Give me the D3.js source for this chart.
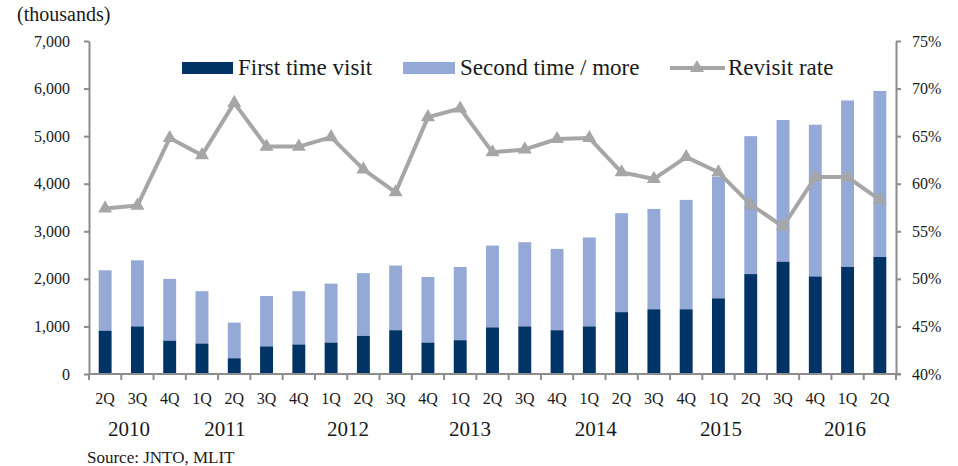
<!DOCTYPE html>
<html>
<head>
<meta charset="utf-8">
<script src="https://cdn.jsdelivr.net/npm/d3@7"></script>
<style>
  body { margin: 0; background: #fff; }
  text { font-family: "Palatino Linotype", "Book Antiqua", Palatino, "Liberation Serif", serif; fill: #1a1a1a; }
</style>
</head>
<body>
<script>
// quarters from 2010 2Q to 2016 2Q
var quarters = ["2Q","3Q","4Q","1Q","2Q","3Q","4Q","1Q","2Q","3Q","4Q","1Q","2Q","3Q","4Q",
                "1Q","2Q","3Q","4Q","1Q","2Q","3Q","4Q","1Q","2Q"];
// thousands of visitors
var firstTime = [910,1000,700,640,330,580,620,660,800,920,660,710,980,1000,920,
                 1000,1300,1360,1360,1590,2100,2360,2050,2250,2460];
var totalVisits = [2180,2390,2000,1740,1080,1640,1740,1900,2120,2280,2040,2250,2700,2770,2630,
                   2870,3380,3470,3660,4150,5000,5340,5240,5750,5950];
// revisit rate, %
var revisitRate = [57.4,57.7,64.8,63.0,68.5,63.9,63.9,64.9,61.5,59.1,67.0,67.9,63.3,63.6,64.7,
                   64.8,61.2,60.5,62.8,61.2,57.8,55.5,60.7,60.7,58.3];

var yearLabels = ["2010","2011","2012","2013","2014","2015","2016"];
var yearAt = [1.24, 4.21, 8.02, 11.8, 15.7, 19.58, 23.42]; // position along axis, in quarter steps

var leftTicks = [0,1000,2000,3000,4000,5000,6000,7000];
var rightTicks = [40,45,50,55,60,65,70,75];

var navy = "#003366", light = "#95a9d7", gray = "#a6a6a6", axisGray = "#8c8c8c";
var serif = "\"Palatino Linotype\", \"Book Antiqua\", Palatino, \"Liberation Serif\", serif";

var svg = d3.select("body").append("svg")
    .attr("width", 958)
    .attr("height", 466);

var plotL = 89, plotR = 896, plotT = 41, plotB = 374;

var idx = d3.range(quarters.length);
var x = d3.scaleBand().domain(idx).range([plotL, plotR]).paddingInner(0.6).paddingOuter(0.3);
var yL = d3.scaleLinear().domain([0, 7000]).range([plotB, plotT]);
var yR = d3.scaleLinear().domain([40, 75]).range([plotB, plotT]);

// bars: first time at bottom, repeat visits stacked on top
var bars = svg.append("g");
bars.selectAll("rect.second")
    .data(idx)
    .enter().append("rect")
    .attr("class", "second")
    .attr("x", function (i) { return x(i); })
    .attr("y", function (i) { return yL(totalVisits[i]); })
    .attr("width", x.bandwidth())
    .attr("height", function (i) { return yL(firstTime[i]) - yL(totalVisits[i]); })
    .style("fill", light);

bars.selectAll("rect.first")
    .data(idx)
    .enter().append("rect")
    .attr("class", "first")
    .attr("x", function (i) { return x(i); })
    .attr("y", function (i) { return yL(firstTime[i]); })
    .attr("width", x.bandwidth())
    .attr("height", function (i) { return yL(0) - yL(firstTime[i]); })
    .style("fill", navy);

// axes
var axL = svg.append("g")
    .attr("transform", "translate(" + plotL + ",0)")
    .call(d3.axisLeft(yL).tickValues(leftTicks).tickFormat(d3.format(",")).tickSize(5).tickSizeOuter(0));
var axR = svg.append("g")
    .attr("transform", "translate(" + plotR + ",0)")
    .call(d3.axisRight(yR).tickValues(rightTicks).tickFormat(function (d) { return d + "%"; }).tickSize(5).tickSizeOuter(0));

[axL, axR].forEach(function (ax) {
    ax.selectAll("path, line").attr("stroke", axisGray).attr("stroke-width", 2);
    ax.selectAll("text").style("font-size", "16px").attr("fill", "#1a1a1a").style("font-family", serif);
});
axL.selectAll("text").attr("x", -19);
axR.selectAll("text").attr("x", 16);

// x axis: baseline with ticks at band boundaries
var xAxis = svg.append("g");
xAxis.append("line")
    .attr("x1", plotL).attr("x2", plotR + 5)
    .attr("y1", plotB).attr("y2", plotB)
    .attr("stroke", axisGray).attr("stroke-width", 2);
xAxis.selectAll("line.tick")
    .data(d3.range(quarters.length + 1))
    .enter().append("line")
    .attr("class", "tick")
    .attr("x1", function (i) { return plotL + i * x.step(); })
    .attr("x2", function (i) { return plotL + i * x.step(); })
    .attr("y1", plotB).attr("y2", plotB + 6)
    .attr("stroke", axisGray).attr("stroke-width", 2);

xAxis.selectAll("text.q")
    .data(idx)
    .enter().append("text")
    .attr("class", "q")
    .attr("x", function (i) { return x(i) + x.bandwidth() / 2; })
    .attr("y", 404)
    .attr("text-anchor", "middle")
    .style("font-size", "16px")
    .text(function (i) { return quarters[i]; });

xAxis.selectAll("text.year")
    .data(yearLabels)
    .enter().append("text")
    .attr("class", "year")
    .attr("x", function (d, i) { return plotL + yearAt[i] * x.step(); })
    .attr("y", 436)
    .attr("text-anchor", "middle")
    .style("font-size", "21px")
    .text(function (d) { return d; });

// revisit rate line
var cx = function (d, i) { return x(i) + x.bandwidth() / 2; };
svg.append("path")
    .datum(revisitRate)
    .attr("d", d3.line().x(cx).y(function (d) { return yR(d); }))
    .attr("fill", "none")
    .attr("stroke", gray)
    .attr("stroke-width", 4)
    .attr("stroke-linejoin", "round");

var tri = d3.symbol().type(d3.symbolTriangle).size(85);
svg.selectAll("path.mark")
    .data(revisitRate)
    .enter().append("path")
    .attr("class", "mark")
    .attr("d", tri)
    .attr("transform", function (d, i) { return "translate(" + cx(d, i) + "," + yR(d) + ")"; })
    .attr("fill", gray);

// legend
var legend = svg.append("g");
legend.append("rect").attr("x", 182).attr("y", 62).attr("width", 51).attr("height", 12).style("fill", navy);
legend.append("text").attr("x", 238).attr("y", 75).style("font-size", "23px").text("First time visit");
legend.append("rect").attr("x", 403).attr("y", 62).attr("width", 52).attr("height", 12).style("fill", light);
legend.append("text").attr("x", 460).attr("y", 75).style("font-size", "23px").text("Second time / more");
legend.append("line").attr("x1", 670).attr("x2", 725).attr("y1", 68).attr("y2", 68)
    .attr("stroke", gray).attr("stroke-width", 4);
legend.append("path").attr("d", tri).attr("transform", "translate(697,68)").attr("fill", gray);
legend.append("text").attr("x", 728).attr("y", 75).style("font-size", "23px").text("Revisit rate");

// titles and notes
svg.append("text").attr("x", 17).attr("y", 21).style("font-size", "20px").text("(thousands)");
svg.append("text").attr("x", 87).attr("y", 463).style("font-size", "17px").text("Source: JNTO, MLIT");
</script>
</body>
</html>
